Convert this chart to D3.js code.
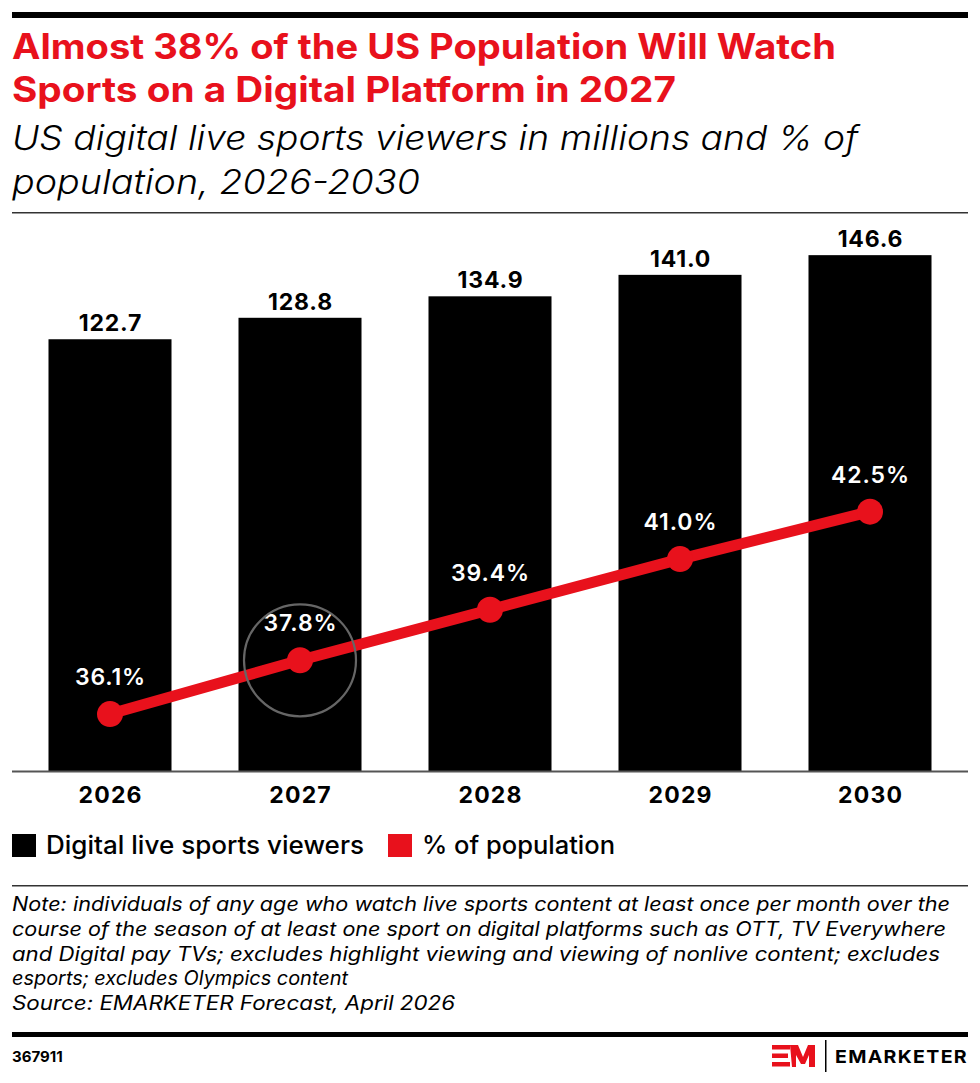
<!DOCTYPE html>
<html>
<head>
<meta charset="utf-8">
<script src="https://cdn.jsdelivr.net/npm/d3@7"></script>
<style>
  html, body { margin: 0; padding: 0; background: #fff; }
  svg { display: block; }
  text { font-family: Inter, Lato, sans-serif; }
</style>
</head>
<body>
<svg id="chart" width="980" height="1083"></svg>
<script>
const years = ["2026", "2027", "2028", "2029", "2030"];
const viewers = [122.7, 128.8, 134.9, 141.0, 146.6];
const pctPopulation = [36.1, 37.8, 39.4, 41.0, 42.5];
const viewerLabels = ["122.7", "128.8", "134.9", "141.0", "146.6"];
const pctLabels = ["36.1%", "37.8%", "39.4%", "41.0%", "42.5%"];
const highlightYear = "2027";
const titleLines = ["Almost 38% of the US Population Will Watch", "Sports on a Digital Platform in 2027"];
const subtitleLines = ["US digital live sports viewers in millions and % of", "population, 2026-2030"];
const legendItems = ["Digital live sports viewers", "% of population"];
const noteLines = [
  "Note: individuals of any age who watch live sports content at least once per month over the",
  "course of the season of at least one sport on digital platforms such as OTT, TV Everywhere",
  "and Digital pay TVs; excludes highlight viewing and viewing of nonlive content; excludes",
  "esports; excludes Olympics content",
  "Source: EMARKETER Forecast, April 2026"
];
const chartId = "367911";

// measured line lengths in the reference (px)
const titleWidths = [824, 664];
const subtitleWidths = [846, 408];
const noteWidths = [938, 934, 928, 336, 443];
const legendWidths = [318, 193];

const RED = "#e8111c";
const svg = d3.select("#chart");

function fit(sel, widths) {
  sel.attr("textLength", (d, i) => widths[i]).attr("lengthAdjust", "spacingAndGlyphs");
}

// top bar
svg.append("rect").attr("x", 12).attr("y", 12).attr("width", 956).attr("height", 6).attr("fill", "#000");

// title
svg.append("g").selectAll("text").data(titleLines).join("text")
  .attr("x", 12).attr("y", (d, i) => 59 + i * 43)
  .attr("fill", RED).attr("font-size", 35).attr("font-weight", 700)
  .text(d => d).call(fit, titleWidths);

svg.append("g").selectAll("text").data(subtitleLines).join("text")
  .attr("x", 12).attr("y", (d, i) => 150 + i * 44)
  .attr("fill", "#000").attr("font-size", 34).attr("font-style", "italic").attr("font-weight", 300)
  .text(d => d).call(fit, subtitleWidths);

svg.append("rect").attr("x", 12).attr("y", 212).attr("width", 956).attr("height", 1.5).attr("fill", "#333");

// scales
const x = d3.scaleBand().domain(years).range([15, 965]).paddingInner(0.3526).paddingOuter(0.1763);
const y = d3.scaleLinear().domain([0, 160]).range([771, 208]);
const yPct = d3.scaleLinear().domain([34.3, 52.1]).range([771, 208]);

const plot = svg.append("g");

// bars
plot.selectAll("rect.bar").data(years).join("rect").attr("class", "bar")
  .attr("x", d => x(d)).attr("width", x.bandwidth())
  .attr("y", (d, i) => y(viewers[i])).attr("height", (d, i) => y(0) - y(viewers[i]))
  .attr("fill", "#000");

plot.selectAll("text.blab").data(years).join("text").attr("class", "blab")
  .attr("x", d => x(d) + x.bandwidth() / 2 + 0.5)
  .attr("y", (d, i) => y(viewers[i]) - 8)
  .attr("text-anchor", "middle").attr("font-size", 23).attr("font-weight", 700).attr("fill", "#000")
  .attr("letter-spacing", 0.8)
  .text((d, i) => viewerLabels[i]);

// x axis
const xAxis = d3.axisBottom(x).tickSize(0).tickPadding(0);
const ax = svg.append("g").attr("transform", `translate(0,${y(0)})`).call(xAxis);
ax.select(".domain").remove();
ax.selectAll("text").attr("font-size", 23).attr("font-weight", 700).attr("fill", "#000")
  .attr("dy", 0).attr("y", 32).attr("x", 0.6).attr("letter-spacing", 1.2)
  .attr("font-family", "Inter, Lato, sans-serif");
svg.append("rect").attr("x", 12).attr("y", y(0) - 0.5).attr("width", 956).attr("height", 2).attr("fill", "#555");

// line
const cx = d => x(d) + x.bandwidth() / 2;
const line = d3.line().x(d => cx(d)).y((d, i) => yPct(pctPopulation[i]));
plot.append("path").datum(years).attr("d", line)
  .attr("fill", "none").attr("stroke", RED).attr("stroke-width", 11);

plot.selectAll("circle.pt").data(years).join("circle").attr("class", "pt")
  .attr("cx", cx).attr("cy", (d, i) => yPct(pctPopulation[i])).attr("r", 13).attr("fill", RED);

plot.selectAll("text.plab").data(years).join("text").attr("class", "plab")
  .attr("x", d => cx(d) + 0.5).attr("y", (d, i) => yPct(pctPopulation[i]) - 29)
  .attr("text-anchor", "middle").attr("font-size", 23).attr("font-weight", 600).attr("fill", "#fff")
  .attr("letter-spacing", 0.9)
  .text((d, i) => pctLabels[i]);

// highlight circle
const hi = years.indexOf(highlightYear);
plot.append("circle").attr("cx", cx(highlightYear)).attr("cy", yPct(pctPopulation[hi]))
  .attr("r", 56).attr("fill", "none").attr("stroke", "#666").attr("stroke-width", 2.2);

// legend
const leg = svg.append("g");
const legColors = ["#000", RED];
const legX = [12, 388];
legendItems.forEach((t, i) => {
  leg.append("rect").attr("x", legX[i]).attr("y", 834).attr("width", 24).attr("height", 23).attr("fill", legColors[i]);
  leg.append("text").attr("x", legX[i] + 34).attr("y", 854).attr("font-size", 25).attr("font-weight", 500)
    .attr("fill", "#000").attr("textLength", legendWidths[i]).attr("lengthAdjust", "spacingAndGlyphs").text(t);
});

svg.append("rect").attr("x", 12).attr("y", 885).attr("width", 956).attr("height", 1.5).attr("fill", "#333");

// note
svg.append("g").selectAll("text").data(noteLines).join("text")
  .attr("x", 12).attr("y", (d, i) => 911 + i * 24.8)
  .attr("font-size", 19.5).attr("font-style", "italic").attr("fill", "#000")
  .text(d => d).call(fit, noteWidths);

// footer
svg.append("rect").attr("x", 12).attr("y", 1032).attr("width", 956).attr("height", 5).attr("fill", "#000");
svg.append("text").attr("x", 12).attr("y", 1062).attr("font-size", 15).attr("font-weight", 700).attr("fill", "#000").text(chartId);

// logo
const logo = svg.append("g");
[[1045, 18], [1053.5, 16], [1062, 18]].forEach(([yy, w]) => {
  logo.append("rect").attr("x", 772).attr("y", yy).attr("width", w).attr("height", 4.5).attr("fill", RED);
});
logo.append("path")
  .attr("d", "M790,1045 L798,1045 L803,1057 L808,1045 L815,1045 L815,1067 L809,1067 L809,1055 L805,1064 L801,1064 L796,1055 L796,1067 L792,1067 Z")
  .attr("fill", RED);
logo.append("rect").attr("x", 825).attr("y", 1040).attr("width", 1.5).attr("height", 32).attr("fill", "#000");
logo.append("text").attr("x", 835).attr("y", 1063).attr("font-size", 18).attr("font-weight", 700)
  .attr("letter-spacing", 1.2).attr("fill", "#000").attr("textLength", 133).attr("lengthAdjust", "spacingAndGlyphs").text("EMARKETER");
</script>
</body>
</html>
